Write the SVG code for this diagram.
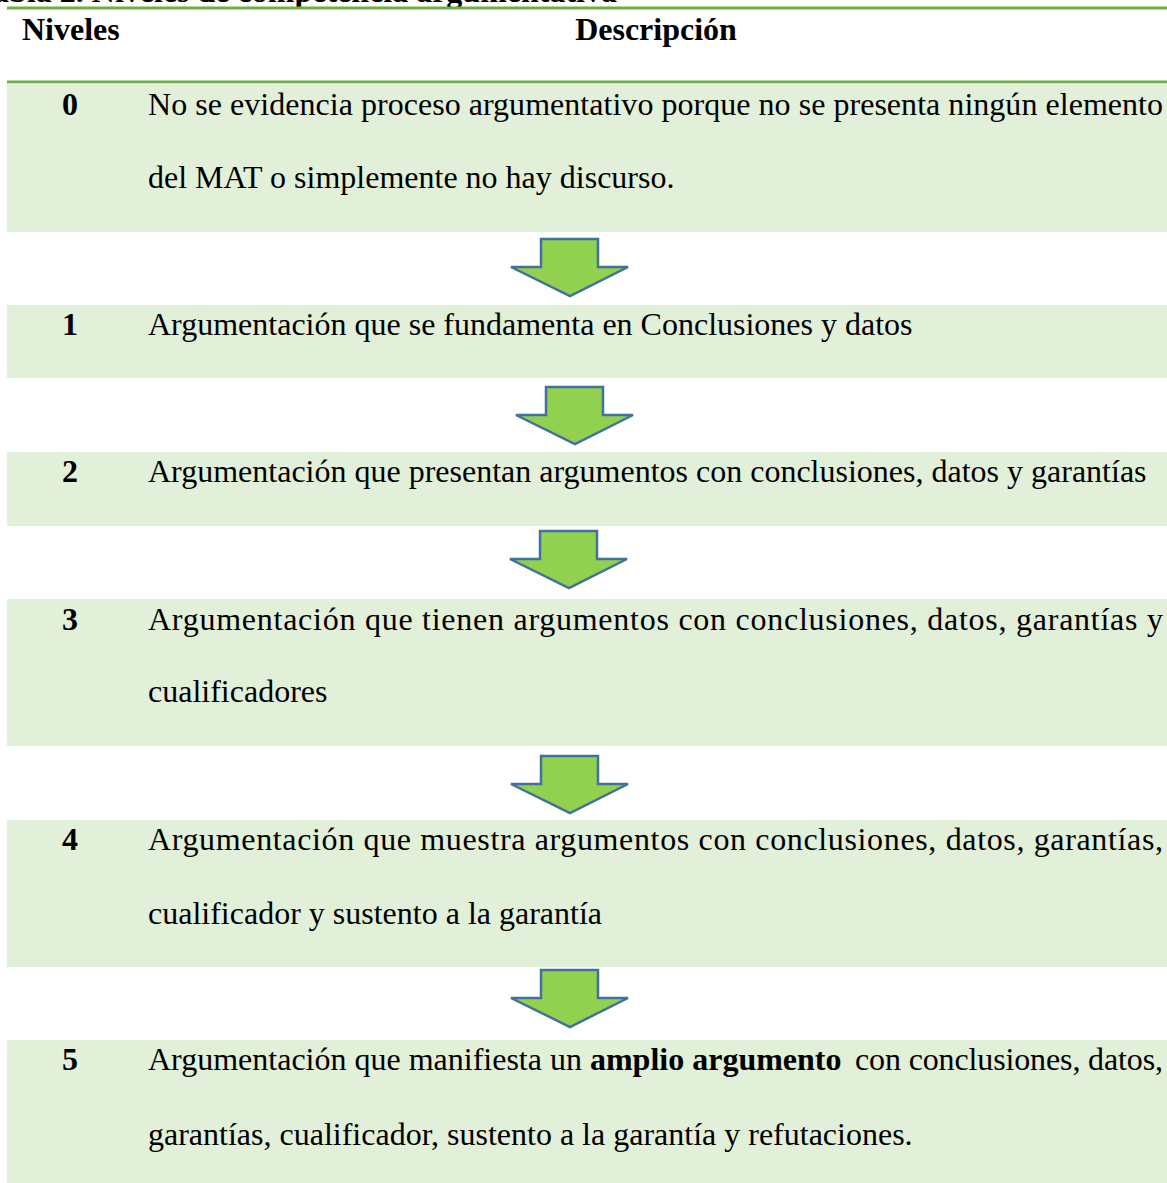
<svg xmlns="http://www.w3.org/2000/svg" width="1167" height="1183" viewBox="0 0 1167 1183">
<style>
.t{font-family:"Liberation Serif","Times New Roman",serif;font-size:32px;fill:#000}
.b{font-weight:bold}
.row{fill:#e2efd9}
.arr{fill:#92d050;stroke:#41719c;stroke-width:2.5;stroke-linejoin:miter}
.rule{stroke:#70ad47;stroke-width:3}
</style>
<defs>
<path id="arrow" class="arr" d="M-29,0 H28 V28 H58 L0,57 L-59,28 H-29 Z"/>
</defs>
<rect width="1167" height="1183" fill="#fff"/>
<text class="t b" x="617" y="2" text-anchor="end">Tabla 2. Niveles de competencia argumentativa</text>
<g id="header">
<line class="rule" x1="7" y1="8" x2="1167" y2="8"/>
<text class="t b" x="22" y="40">Niveles</text>
<text class="t b" x="656" y="40" text-anchor="middle">Descripción</text>
<line class="rule" x1="7" y1="82" x2="1167" y2="82"/>
</g>
<g id="nivel0">
<rect class="row" x="7" y="83.5" width="1160" height="148.5"/>
<text class="t b" x="70" y="115" text-anchor="middle">0</text>
<text class="t" x="148" y="115" textLength="1015" lengthAdjust="spacing">No se evidencia proceso argumentativo porque no se presenta ningún elemento</text>
<text class="t" x="148" y="188">del MAT o simplemente no hay discurso.</text>
</g>
<g id="nivel1">
<rect class="row" x="7" y="305" width="1160" height="73"/>
<text class="t b" x="70" y="335" text-anchor="middle">1</text>
<text class="t" x="148" y="335">Argumentación que se fundamenta en Conclusiones y datos</text>
</g>
<g id="nivel2">
<rect class="row" x="7" y="452" width="1160" height="74"/>
<text class="t b" x="70" y="482" text-anchor="middle">2</text>
<text class="t" x="148" y="482">Argumentación que presentan argumentos con conclusiones, datos y garantías</text>
</g>
<g id="nivel3">
<rect class="row" x="7" y="599" width="1160" height="147"/>
<text class="t b" x="70" y="630" text-anchor="middle">3</text>
<text class="t" x="148" y="630" textLength="1015" lengthAdjust="spacing">Argumentación que tienen argumentos con conclusiones, datos, garantías y</text>
<text class="t" x="148" y="702">cualificadores</text>
</g>
<g id="nivel4">
<rect class="row" x="7" y="820" width="1160" height="147"/>
<text class="t b" x="70" y="850" text-anchor="middle">4</text>
<text class="t" x="148" y="850" textLength="1015" lengthAdjust="spacing">Argumentación que muestra argumentos con conclusiones, datos, garantías,</text>
<text class="t" x="148" y="924">cualificador y sustento a la garantía</text>
</g>
<g id="nivel5">
<rect class="row" x="7" y="1040" width="1160" height="143"/>
<text class="t b" x="70" y="1070" text-anchor="middle">5</text>
<text class="t" x="148" y="1070">Argumentación que manifiesta un <tspan class="b">amplio argumento</tspan></text>
<text class="t" x="855" y="1070" textLength="308" lengthAdjust="spacing">con conclusiones, datos,</text>
<text class="t" x="148" y="1145">garantías, cualificador, sustento a la garantía y refutaciones.</text>
</g>
<g id="connectors">
<use href="#arrow" x="570" y="239"/>
<use href="#arrow" x="575" y="387"/>
<use href="#arrow" x="569" y="531"/>
<use href="#arrow" x="570" y="756"/>
<use href="#arrow" x="570" y="970"/>
</g>
</svg>
